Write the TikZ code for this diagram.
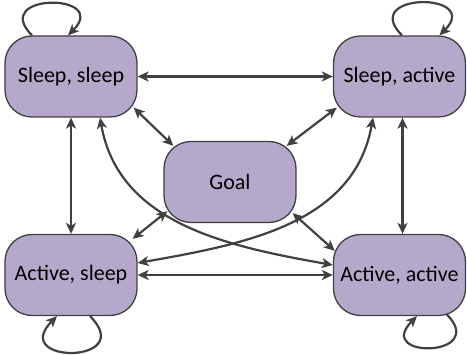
\documentclass[tikz,border=0pt]{standalone}
\usepackage{fontspec}
\setsansfont{Carlito}
\usepackage{xcolor}
\usepackage{tikz}
\usetikzlibrary{arrows.meta}
\definecolor{stateFill}{RGB}{180,168,203}
\definecolor{edgeGray}{RGB}{64,64,64}

\begin{document}
\begin{tikzpicture}[<->, >={Stealth[length=11pt, width=10pt, inset=3pt]}, color=edgeGray, line width=2.2pt, node distance=328.5pt, main node/.style={rounded corners=27pt, fill=stateFill, draw=edgeGray, text=black, line width=1.3pt, minimum width=132pt, minimum height=81pt, inner sep=0pt, font=\sffamily\fontsize{22}{26}\selectfont}]

			\useasboundingbox (-71pt,76.5pt) rectangle (396pt,-278.5pt);

			\node[main node] (1) {Sleep, sleep};
			\node[main node] (2) [right of=1] {Sleep, active};
			\node[main node] (3) [node distance=198.5pt, below of=1] {Active, sleep};
			\node[main node] (4) [right of=3] {Active, active};
			\node[main node] (5) at (159pt,-105.5pt) {Goal};

			% rows and columns
			\draw (1) -- (2);
			\draw (1) -- (3);
			\draw ([xshift=3pt]2.south) -- ([xshift=3pt]4.north);
			\draw (3) -- (4);

			% links to the goal
			\draw ([xshift=-4pt, yshift=10pt]1.south east) -- ([xshift=10pt, yshift=-5pt]5.north west);
			\draw ([xshift=4pt, yshift=10pt]2.south west) -- ([xshift=-10pt, yshift=-5pt]5.north east);
			\draw ([xshift=4pt, yshift=12pt]5.south west) -- ([xshift=-5pt, yshift=-5pt]3.north east);
			\draw ([xshift=-4pt, yshift=10pt]5.south east) -- ([xshift=2pt, yshift=-17pt]4.north west);

			% crossing curves
			\draw ([xshift=29pt]1.south) to [out=-80, in=170] ([yshift=10pt]4.west);
			\draw ([xshift=-26.5pt]2.south) to [out=-100, in=10] ([yshift=12pt]3.east);

			% self loops
			\draw[->] ([xshift=-39pt]1.north) to [out=135, in=45, looseness=4.3] ([xshift=-3pt]1.north);
			\draw[->] ([xshift=2.5pt]2.north) to [out=135, in=45, looseness=4.2] ([xshift=40pt]2.north);
			\draw[->] ([xshift=19pt]3.south) to [out=-45, in=-135, looseness=5.3] ([xshift=-14pt]3.south);
			\draw[->] ([xshift=47pt, yshift=2pt]4.south) to [out=-45, in=-135, looseness=5.3] ([xshift=17.5pt]4.south);

		\end{tikzpicture}
\end{document}
